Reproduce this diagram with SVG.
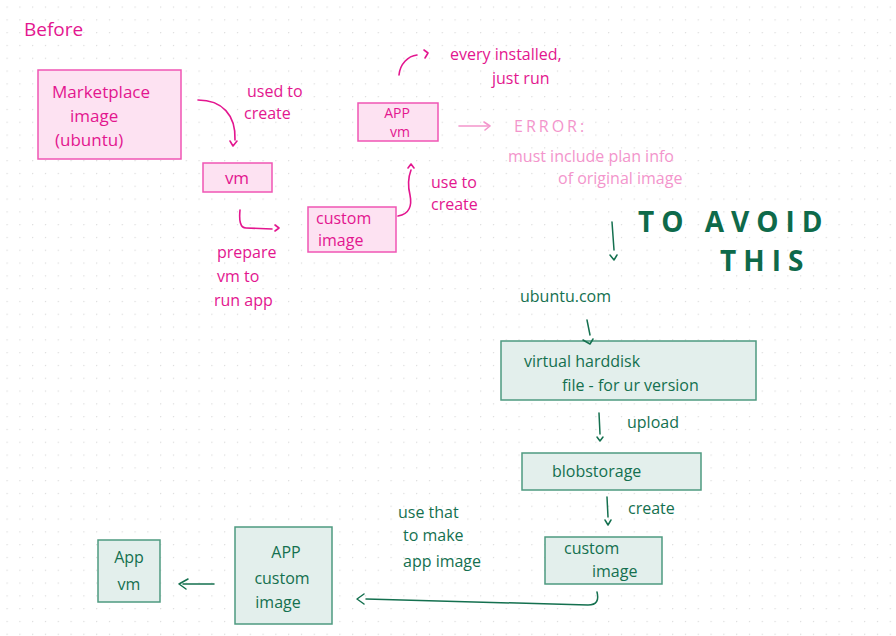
<svg xmlns="http://www.w3.org/2000/svg" width="896" height="636" viewBox="0 0 896 636">
<defs>
<pattern id="dots" x="6.5" y="6.5" width="12.8" height="12.8" patternUnits="userSpaceOnUse">
<circle cx="0.5" cy="0.5" r="0.75" fill="#d9d9d9"/>
</pattern>
<style>
.t{font-family:"Open Sans","Noto Sans",sans-serif;font-size:16px}
.pk{fill:#e3168f}
.lp{fill:#f395cc}
.gr{fill:#14704f}
.pbox{fill:#fde2f2;stroke:#f055b4;stroke-width:1.5}
.gbox{fill:#e3efec;stroke:#4e9a80;stroke-width:1.5}
.pl{fill:none;stroke:#e3168f;stroke-width:1.6;stroke-linecap:round;stroke-linejoin:round}
.lpl{fill:none;stroke:#f395cc;stroke-width:1.6;stroke-linecap:round;stroke-linejoin:round}
.gl{fill:none;stroke:#14704f;stroke-width:1.5;stroke-linecap:round;stroke-linejoin:round}
.big{font-family:"Open Sans","Noto Sans",sans-serif;font-size:28px;font-weight:bold;fill:#0e6a4a;letter-spacing:7px}
</style>
</defs>
<rect width="896" height="636" fill="#ffffff"/>
<rect width="896" height="636" fill="url(#dots)"/>

<text class="t pk" x="24" y="36" style="font-size:19px">Before</text>

<g id="marketplace">
<rect class="pbox" x="38" y="70" width="143" height="89"/>
<text class="t pk" x="52" y="98" style="font-size:17px">Marketplace</text>
<text class="t pk" x="70" y="122" style="font-size:17px">image</text>
<text class="t pk" x="55" y="146" style="font-size:17px">(ubuntu)</text>
</g>
<g id="vm">
<rect class="pbox" x="203" y="163" width="69" height="29"/>
<text class="t pk" x="237" y="184" text-anchor="middle" style="font-size:17px">vm</text>
</g>
<g id="custom-image-pink">
<rect class="pbox" x="308" y="207" width="88" height="45"/>
<text class="t pk" x="316" y="224">custom</text>
<text class="t pk" x="318" y="246">image</text>
</g>
<g id="app-vm-pink">
<rect class="pbox" x="358" y="103" width="80" height="38"/>
<text class="t pk" x="397" y="118" text-anchor="middle" style="font-size:14px">APP</text>
<text class="t pk" x="400" y="137" text-anchor="middle" style="font-size:14px">vm</text>
</g>

<g id="labels-pink">
<text class="t pk" x="247" y="97">used to</text>
<text class="t pk" x="244" y="119">create</text>
<text class="t pk" x="217" y="258">prepare</text>
<text class="t pk" x="217" y="282">vm to</text>
<text class="t pk" x="214" y="306">run app</text>
<text class="t pk" x="431" y="188">use to</text>
<text class="t pk" x="431" y="210">create</text>
<text class="t pk" x="450" y="60">every installed,</text>
<text class="t pk" x="492" y="84">just run</text>
<text class="t lp" x="514" y="132" style="letter-spacing:3px">ERROR:</text>
<text class="t lp" x="508" y="162">must include plan info</text>
<text class="t lp" x="558" y="184">of original image</text>
</g>

<g id="green-title">
<text class="big" x="638" y="232">TO AVOID</text>
<text class="big" x="720" y="271">THIS</text>
</g>

<g id="ubuntu-com">
<text class="t gr" x="520" y="302">ubuntu.com</text>
</g>
<g id="vhd">
<rect class="gbox" x="501" y="341" width="255" height="59"/>
<text class="t gr" x="524" y="367">virtual harddisk</text>
<text class="t gr" x="562" y="391">file - for ur version</text>
</g>
<g id="blob">
<rect class="gbox" x="522" y="453" width="179" height="37"/>
<text class="t gr" x="552" y="477">blobstorage</text>
</g>
<g id="custom-image-green">
<rect class="gbox" x="545" y="537" width="117" height="47"/>
<text class="t gr" x="564" y="554">custom</text>
<text class="t gr" x="592" y="577">image</text>
</g>
<g id="app-custom-image">
<rect class="gbox" x="235" y="527" width="97" height="97"/>
<text class="t gr" x="286" y="558" text-anchor="middle">APP</text>
<text class="t gr" x="282" y="584" text-anchor="middle">custom</text>
<text class="t gr" x="278" y="608" text-anchor="middle">image</text>
</g>
<g id="app-vm-green">
<rect class="gbox" x="98" y="540" width="62" height="62"/>
<text class="t gr" x="129" y="563" text-anchor="middle">App</text>
<text class="t gr" x="129" y="590" text-anchor="middle">vm</text>
</g>
<g id="labels-green">
<text class="t gr" x="627" y="428">upload</text>
<text class="t gr" x="628" y="514">create</text>
<text class="t gr" x="398" y="518">use that</text>
<text class="t gr" x="403" y="541">to make</text>
<text class="t gr" x="403" y="567">app image</text>
</g>

<g id="connectors">
<path class="pl" d="M198 100 C222 100 236 115 235 140"/>
<path class="pl" d="M230 141 L233 146 L237 141"/>
<path class="pl" d="M240 210 C239 220 240 228 246 228 L272 229"/>
<path class="pl" d="M275 225 L279 228 L275 231"/>
<path class="pl" d="M398 216 C410 214 412 205 410 195 C408 187 408 178 411 170"/>
<path class="pl" d="M408 168 L411 164 L414 168"/>
<path class="pl" d="M399 75 C400 64 408 56 417 55"/>
<path class="pl" d="M424 50 L428 53 L425 58"/>
<path class="lpl" d="M459 126 L488 126"/>
<path class="lpl" d="M484 122 L490 126 L485 130"/>
<path class="gl" d="M612 222 L614 250"/>
<path class="gl" d="M610 255 L614 260 L617 255"/>
<path class="gl" d="M587 320 L590 335"/>
<path class="gl" d="M583 340 L590 344 L593 339"/>
<path class="gl" d="M599 413 L600 434"/>
<path class="gl" d="M597 437 L600 441 L603 437"/>
<path class="gl" d="M607 497 L608 517"/>
<path class="gl" d="M605 520 L608 525 L611 520"/>
<path class="gl" d="M597 592 C599 600 597 605 588 605 L366 599"/>
<path class="gl" d="M364 594 L357 599 L364 604"/>
<path class="gl" d="M214 584 L183 584"/>
<path class="gl" d="M188 579 L179 584 L186 589"/>
</g>
</svg>
